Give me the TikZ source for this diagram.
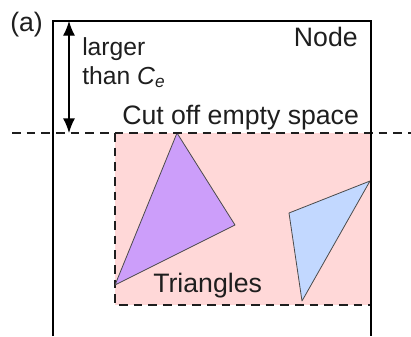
\documentclass[tikz,border=0pt]{standalone}
\usepackage{fontspec}
\setmainfont{Liberation Sans}
\usetikzlibrary{arrows.meta}
\definecolor{pinkfill}{RGB}{255,216,216}
\definecolor{purplefill}{RGB}{204,158,250}
\definecolor{bluefill}{RGB}{194,216,255}
\definecolor{inkgray}{RGB}{30,30,30}
\tikzset{
  lbl/.style={inner sep=0pt, text=inkgray, font=\fontsize{20}{24}\selectfont},
  smalllbl/.style={inner sep=0pt, text=inkgray, font=\fontsize{18.5}{22}\selectfont},
  boxline/.style={draw=black, line width=1.1pt},
  cutline/.style={draw=inkgray, line width=1.1pt, dash pattern=on 6.5pt off 4.5pt},
  tri/.style={draw=inkgray!80, line width=0.6pt, line join=round},
  dimarrow/.style={draw=black, line width=1pt, {Latex[length=11pt,width=9pt]}-{Latex[length=11pt,width=9pt]}}
}
\begin{document}
\begin{tikzpicture}[x=0.75pt,y=-0.75pt]
\useasboundingbox (0,0) rectangle (411,336);
% cut-off region
\fill[pinkfill] (115,133) rectangle (371,305);
\draw[cutline] (115,133) -- (115,305) -- (371,305);
% triangles
\draw[tri, fill=purplefill] (177,133) -- (235,225) -- (115,285) -- cycle;
\draw[tri, fill=bluefill] (289,213) -- (370,181) -- (302,301) -- cycle;
% long cut line
\draw[cutline] (12,133) -- (411,133);
% node box
\draw[boxline] (53,336) -- (53,21) -- (371,21) -- (371,336);
% dimension arrow
\coordinate (atop) at (69,21);
\coordinate (abot) at (69,133);
\draw[dimarrow] (atop) -- (abot);
% labels
\node[lbl, anchor=base west] (lbla) at (10,31) {(a)};
\node[smalllbl, anchor=base west] (larger) at (82,55) {larger};
\node[smalllbl, anchor=base west] (than) at (82,84) {than \textit{C}\textsubscript{\textit{e}}};
\node[lbl, anchor=base east] (nodelbl) at (358,46) {Node};
\node[lbl, anchor=base west] (cutlbl) at (122,124) {Cut off empty space};
\node[lbl, anchor=base west] (trilbl) at (153,292) {Triangles};
\end{tikzpicture}
\end{document}
